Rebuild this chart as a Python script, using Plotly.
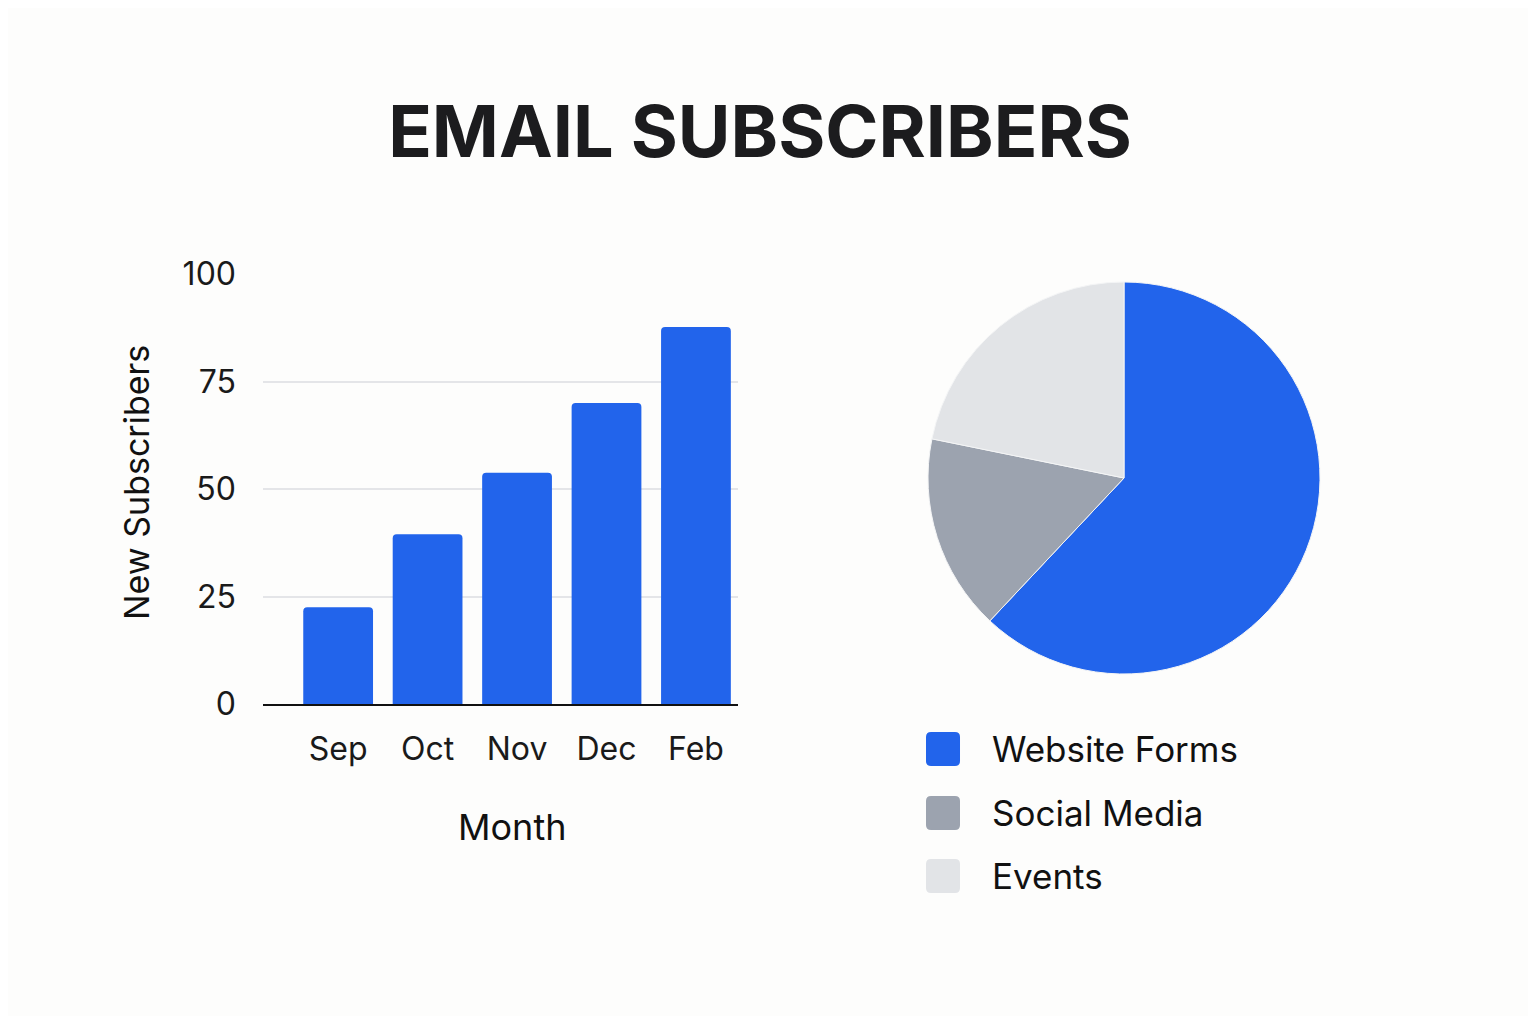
import plotly.graph_objects as go

# bar chart data
months = ["Sep", "Oct", "Nov", "Dec", "Feb"]
new_subscribers = [22.5, 39.5, 53.8, 70, 87.7]
y_ticks = [0, 25, 50, 75, 100]

# pie chart data
sources = ["Website Forms", "Social Media", "Events"]
source_share = [62, 16.2, 21.8]
source_colors = ["#2264EB", "#9CA3AF", "#E2E4E7"]

# page has an 8px body margin, so the figure is drawn 16px smaller
OFF = 8
W, H = 1536 - 2 * OFF, 1024 - 2 * OFF
BLUE = "#2264EB"
FONT = "Inter"


def px_x(x):
    return (x - OFF) / W


def px_y(y):
    return 1 - (y - OFF) / H


fig = go.Figure()

fig.add_trace(go.Bar(x=list(range(len(months))), y=new_subscribers,
                     marker=dict(color=BLUE, line=dict(width=0)),
                     width=0.78, showlegend=False, hoverinfo="y"))

fig.add_trace(go.Pie(labels=sources, values=source_share,
                     marker=dict(colors=source_colors, line=dict(color="#F4F5F6", width=1)),
                     sort=False, direction="clockwise", rotation=0,
                     textinfo="none", showlegend=False,
                     domain=dict(x=[px_x(928), px_x(1320)], y=[px_y(674), px_y(282)])))

fig.update_layout(
    width=W, height=H,
    margin=dict(l=0, r=0, t=0, b=0, autoexpand=False),
    paper_bgcolor="#FDFDFC", plot_bgcolor="rgba(0,0,0,0)",
    font=dict(family=FONT, color="#1A1A1A"),
    barcornerradius=4,
    title=dict(text="<b>EMAIL SUBSCRIBERS</b>", x=px_x(760), xanchor="center",
               y=px_y(132), yanchor="middle",
               font=dict(size=72, family=FONT, color="#1C1C1E")),
    xaxis=dict(domain=[px_x(263), px_x(738)], range=[-0.84, 4.47],
               tickmode="array", tickvals=list(range(len(months))), ticktext=months,
               showgrid=False, zeroline=False, showline=True, automargin=False,
               linecolor="#111111", linewidth=2, ticks="",
               ticklabelstandoff=16, tickfont=dict(size=32, color="#1A1A1A")),
    yaxis=dict(domain=[px_y(704), px_y(274)], range=[0, 100],
               tickmode="array", tickvals=y_ticks, automargin=False,
               showgrid=True, gridcolor="#E4E5E8", gridwidth=1.5,
               zeroline=False, showline=False, ticks="",
               ticklabelstandoff=26, tickfont=dict(size=32, color="#1A1A1A")),
)

# axis titles
fig.add_annotation(text="Month", x=px_x(512), y=px_y(827), xref="paper", yref="paper",
                   xanchor="center", yanchor="middle",
                   showarrow=False, font=dict(size=36, color="#111111"))
fig.add_annotation(text="New Subscribers", x=px_x(136), y=px_y(483), xref="paper", yref="paper",
                   xanchor="center", yanchor="middle",
                   showarrow=False, textangle=-90, font=dict(size=34, color="#111111"))


def rounded_box(x0, y0, x1, y1, r):
    "Rounded rectangle path in paper coords, corners given in pixels"
    pts = [("M", x0 + r, y0), ("L", x1 - r, y0), ("Q", x1, y0, x1, y0 + r),
           ("L", x1, y1 - r), ("Q", x1, y1, x1 - r, y1), ("L", x0 + r, y1),
           ("Q", x0, y1, x0, y1 - r), ("L", x0, y0 + r), ("Q", x0, y0, x0 + r, y0)]
    out = []
    for p in pts:
        cmd, coords = p[0], p[1:]
        xy = []
        for i in range(0, len(coords), 2):
            xy.append(f"{px_x(coords[i]):.5f},{px_y(coords[i + 1]):.5f}")
        out.append(cmd + " " + " ".join(xy))
    return " ".join(out) + " Z"


# legend for the pie, drawn by hand so the swatches can be large
legend_rows = [749, 813, 876]
for label, color, yc in zip(sources, source_colors, legend_rows):
    fig.add_shape(type="path", path=rounded_box(926, yc - 17, 960, yc + 17, 5),
                  xref="paper", yref="paper", fillcolor=color, line=dict(width=0))
    fig.add_annotation(text=label, x=px_x(990), y=px_y(yc), xref="paper", yref="paper",
                       xanchor="left", yanchor="middle", showarrow=False,
                       font=dict(size=35, color="#111111"))

fig.write_html("out.html")
